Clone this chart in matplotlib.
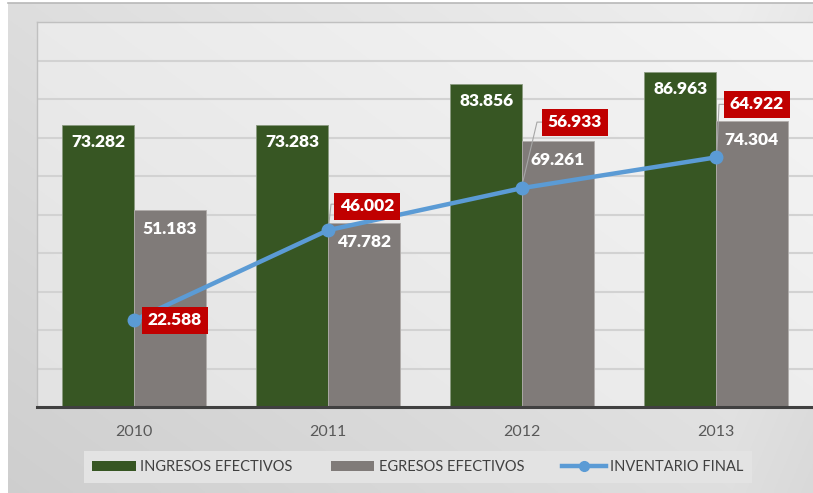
import numpy as np
import matplotlib
matplotlib.use("Agg")
import matplotlib.pyplot as plt
from matplotlib.patches import Rectangle
from matplotlib.lines import Line2D

years = ['2010', '2011', '2012', '2013']
ingresos = [73.282, 73.283, 83.856, 86.963]
egresos = [51.183, 47.782, 69.261, 74.304]
inventario = [22.588, 46.002, 56.933, 64.922]

GREEN = '#375623'
GRAY = '#807b79'
BLUE = '#5b9bd5'
RED = '#c00000'
FONT = 'Lato'

W, H = 813, 493
fig = plt.figure(figsize=(W / 100, H / 100), dpi=100)
fig.patch.set_facecolor('white')

# outer chart background gradient
bg = fig.add_axes([8 / W, 0, 1 - 8 / W, (H - 3) / H], zorder=-10)
yy, xx = np.mgrid[0:1:200j, 0:1:400j]
g = 0.81 + 0.13 * (0.55 * xx + 0.45 * yy) - 0.03 * np.clip((xx - 0.9) / 0.1, 0, 1)
bg.imshow(np.dstack([g, g, g]), origin='lower', extent=[0, 1, 0, 1], aspect='auto')
bg.set_axis_off()
fig.add_artist(Line2D([8 / W, 1], [(H - 2.5) / H] * 2, color='#b8b8b8', lw=1.2))

left, bottom = 37 / W, (H - 407.3) / H
top = (H - 22.3) / H
ax = fig.add_axes([left, bottom, 1 - left, top - bottom])
ax.set_facecolor('none')

# plot-area gradient
g2 = 0.89 + 0.07 * (0.6 * xx + 0.4 * yy)
ax.imshow(np.dstack([g2, g2, g2]), origin='lower', extent=[-0.5, 3.5, 0, 100],
          aspect='auto', zorder=0)

x = np.arange(len(years))
bw = 0.37
ax.set_xlim(-0.5, 3.5)
ax.set_ylim(0, 100)
for yv in range(10, 101, 10):
    ax.axhline(yv, color='#d2d2d2', lw=1.5, zorder=1)

ax.bar(x - bw / 2, ingresos, bw, color=GREEN, edgecolor='#8a9a80', lw=0.6, zorder=2)
ax.bar(x + bw / 2, egresos, bw, color=GRAY, edgecolor='#b0acaa', lw=0.6, zorder=2)
ax.plot(x, inventario, color=BLUE, lw=3.2, marker='o', ms=9, zorder=4,
        solid_capstyle='round')

LBL = dict(ha='center', va='center', color='white', fontsize=12.5,
           fontweight='heavy', family=FONT)
for xi, v in zip(x, ingresos):
    ax.annotate(f'{v:.3f}', (xi - bw / 2, v), xytext=(0, -17), textcoords='offset pixels',
                zorder=5, **LBL)
for xi, v in zip(x, egresos):
    ax.annotate(f'{v:.3f}', (xi + bw / 2, v), xytext=(0, -19), textcoords='offset pixels',
                zorder=5, **LBL)

# red inventory labels: (dx, dy) pixel offsets of box centre, leader elbow
offsets = [(41, 0, None), (39, 24, (3, 26)), (53, 66, (15, 66)), (41, 53, (3, 53))]
for xi, v, (dx, dy, elbow) in zip(x, inventario, offsets):
    if elbow is not None:
        px, py = ax.transData.transform((xi, v))
        ex, ey = px + elbow[0], py + elbow[1]
        bx = px + dx - 30
        inv = ax.transData.inverted()
        pts = inv.transform([(px + 1, py + 7), (ex, ey), (bx, ey)])
        ax.plot(pts[:, 0], pts[:, 1], color='#a6a6a6', lw=0.8, zorder=3)
    ax.annotate(f'{v:.3f}', (xi, v), xytext=(dx, dy), textcoords='offset pixels',
                zorder=6, bbox=dict(boxstyle='square,pad=0.32', fc=RED, ec='none'),
                **LBL)

for s in ['right', 'bottom']:
    ax.spines[s].set_visible(False)
ax.spines['left'].set_color('#c0c0c0')
ax.spines['top'].set_color('#c0c0c0')
ax.spines['left'].set_linewidth(1.0)
ax.spines['top'].set_linewidth(1.0)
ax.axhline(0, color='#404040', lw=2.2, zorder=5, clip_on=False)
ax.set_yticks([])
ax.set_xticks(x)
ax.set_xticklabels(years, family=FONT, fontsize=11.5, color='#595959')
ax.tick_params(axis='x', length=0, pad=13)

handles = [Rectangle((0, 0), 1, 1, fc=GREEN), Rectangle((0, 0), 1, 1, fc=GRAY),
           Line2D([], [], color=BLUE, lw=3.2, marker='o', ms=7)]
labels = ['INGRESOS EFECTIVOS', 'EGRESOS EFECTIVOS', 'INVENTARIO FINAL']
leg = fig.legend(handles, labels, loc='center', bbox_to_anchor=(418 / W, (H - 467) / H),
                 ncol=3, frameon=True, fancybox=False, facecolor='#e3e3e3',
                 edgecolor='none', framealpha=1,
                 prop={'family': FONT, 'size': 10.5}, handlelength=3.0,
                 handleheight=0.7, columnspacing=2.6, handletextpad=0.3,
                 borderpad=0.6)
for t in leg.get_texts():
    t.set_color('#404040')

fig.savefig('out.png', dpi=100)
